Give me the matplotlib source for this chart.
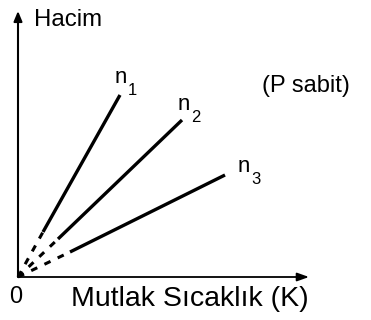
import matplotlib
matplotlib.use("Agg")
import matplotlib.pyplot as plt

plt.rcParams['font.family'] = ['Liberation Sans', 'DejaVu Sans']

# Gas samples with n1 > n2 > n3 moles, volume vs absolute temperature at constant pressure
labels = ["1", "2", "3"]
t_start = [25, 40, 52]      # where the measured (solid) part begins
v_start = [45, 38, 25]
t_end = [102, 164, 207]
v_end = [182, 157, 102]

fig = plt.figure(figsize=(3.71, 3.2), dpi=100)
ax = fig.add_axes([0, 0, 1, 1])
ax.set_xlim(-18, 353)
ax.set_ylim(-43, 277)
ax.axis("off")

# axes with arrow heads
ax.annotate("", xy=(0, 266), xytext=(0, 0),
            arrowprops=dict(arrowstyle="-|>,head_length=0.6,head_width=0.25",
                            lw=1.5, color="black", shrinkA=0, shrinkB=0))
ax.annotate("", xy=(291, 0), xytext=(0, 0),
            arrowprops=dict(arrowstyle="-|>,head_length=0.7,head_width=0.25",
                            lw=1.3, color="black", shrinkA=0, shrinkB=0))

for lab, t0, v0, t1, v1 in zip(labels, t_start, v_start, t_end, v_end):
    ax.plot([0, t0], [0, v0], color="black", lw=2.2, ls=(0, (2.2, 2.6)),
            solid_capstyle="butt", dash_capstyle="butt")
    ax.plot([t0, t1], [v0, v1], color="black", lw=2.4, solid_capstyle="butt")

# curve labels: "n" with a lowered index
name_offsets = [(-5, 7), (-4, 5), (13, -2)]
for lab, t1, v1, (dx, dy) in zip(labels, t_end, v_end, name_offsets):
    ax.text(t1 + dx, v1 + dy, "n", fontsize=16, ha="left", va="bottom")
    ax.text(t1 + dx + 13, v1 + dy - 10, lab, fontsize=12, ha="left", va="bottom")

ax.text(16, 257, "Hacim", fontsize=17.3, ha="left", va="center")
ax.text(288, 191, "(P sabit)", fontsize=17, ha="center", va="center")
ax.text(-2, -20, "0", fontsize=17, ha="center", va="center")
ax.text(172, -22, "Mutlak Sıcaklık (K)", fontsize=20.5, ha="center", va="center")

fig.savefig("out.png", dpi=100)
